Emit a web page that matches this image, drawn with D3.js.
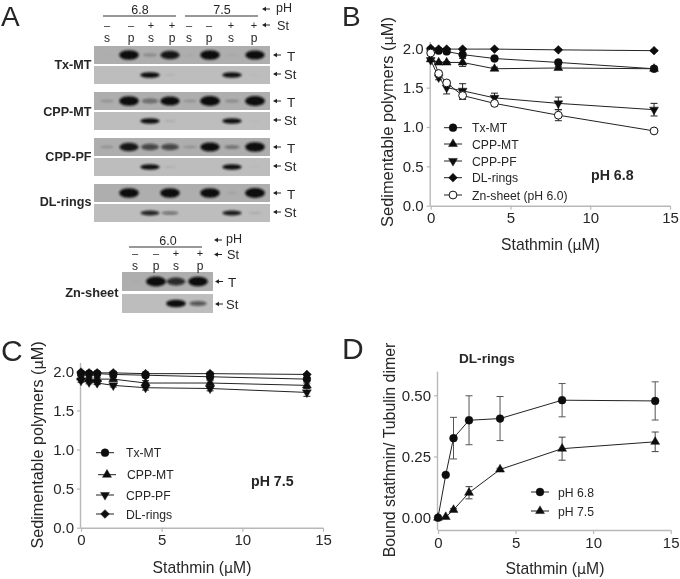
<!DOCTYPE html>
<html><head><meta charset="utf-8">
<script src="https://cdn.jsdelivr.net/npm/d3@7/dist/d3.min.js"></script>
<style>html,body{margin:0;padding:0;background:#fff}svg{display:block}text{font-family:"Liberation Sans",Arial,sans-serif;fill:#262626}</style>
</head><body><svg id="c" width="680" height="579"></svg>
<script>
const stathmin=[0,0.5,1,2,4,8,14];
const txB=[1.98,1.97,1.96,1.92,1.87,1.82,1.74], txBe=[0.01,0.01,0.02,0.02,0.02,0.02,0.02];
const cppmtB=[1.86,1.82,1.82,1.82,1.74,1.75,1.74], cppmtBe=[0.01,0.01,0.01,0.05,0.02,0.02,0.02];
const cpppfB=[1.85,1.63,1.50,1.46,1.37,1.30,1.22], cpppfBe=[0.01,0.03,0.08,0.09,0.06,0.08,0.08];
const dlB=[2.0,1.99,1.99,1.99,1.99,1.98,1.97], dlBe=[0.01,0.01,0.01,0.01,0.01,0.01,0.01];
const znB=[1.94,1.68,1.56,1.40,1.30,1.15,0.95], znBe=[0.02,0.02,0.03,0.05,0.03,0.07,0.01];
const txC=[1.97,1.97,1.97,1.96,1.95,1.93,1.90], txCe=[0.02,0.02,0.02,0.03,0.03,0.03,0.02];
const cppmtC=[1.92,1.90,1.90,1.90,1.85,1.85,1.82], cppmtCe=[0.02,0.02,0.02,0.02,0.03,0.03,0.03];
const cpppfC=[1.88,1.86,1.85,1.82,1.79,1.78,1.73], cpppfCe=[0.02,0.02,0.02,0.02,0.03,0.03,0.05];
const dlC=[1.99,1.98,1.98,1.98,1.97,1.97,1.96], dlCe=[0.01,0.01,0.01,0.02,0.02,0.02,0.01];
const d68=[0,0.175,0.325,0.398,0.405,0.48,0.477], d68e=[0,0,0.085,0.1,0.09,0.068,0.078];
const d75=[0,0.003,0.032,0.102,0.197,0.282,0.31], d75e=[0,0,0.005,0.025,0.005,0.047,0.04];
const xTicks=[0,5,10,15], yTicksBC=[0,0.5,1,1.5,2], yTicksD=[0,0.25,0.5];
const laneLabels=["s","p","s","p"], signLabels=["\u2013","\u2013","+","+"];
const gelRows=[
 {name:"Tx-MT",T:[0.02,0.95,0.2,0.85,0.04,0.95,0.05,0.9],St:[0,0,0.95,0.08,0,0,0.9,0.05]},
 {name:"CPP-MT",T:[0.15,0.95,0.4,0.9,0.15,1,0.2,1],St:[0,0,0.9,0.12,0,0,0.9,0.05]},
 {name:"CPP-PF",T:[0.15,0.85,0.6,0.6,0.15,0.9,0.3,0.95],St:[0,0,0.9,0.1,0,0,0.9,0.05]},
 {name:"DL-rings",T:[0,0.95,0,0.95,0,0.95,0.08,1],St:[0,0,0.8,0.45,0,0,0.85,0.15]}];
const znT=[0.03,1,0.75,0.95], znSt=[0,0,0.95,0.55];

const svg=d3.select("#c");
const defs=svg.append("defs");
defs.append("filter").attr("id","soft").attr("x","-5%").attr("y","-5%").attr("width","110%").attr("height","110%")
 .append("feGaussianBlur").attr("stdDeviation",0.35);
defs.append("filter").attr("id","band").attr("x","-30%").attr("y","-60%").attr("width","160%").attr("height","220%")
 .append("feGaussianBlur").attr("stdDeviation",0.9);
const root=svg.append("g").attr("filter","url(#soft)");
function T(x,y,s,size,opt={}){const t=root.append("text").attr("x",x).attr("y",y).attr("font-size",size)
 .attr("text-anchor",opt.anchor||"start").attr("font-weight",opt.bold?"bold":"normal").text(s);
 if(opt.rot!==undefined)t.attr("transform",`rotate(${opt.rot} ${x} ${y})`);return t;}
function arrow(x,y){root.append("path").attr("d",d3.line()([[x,y],[x+4,y-2.2],[x+4,y-0.5],[x+8,y-0.5],[x+8,y+0.5],[x+4,y+0.5],[x+4,y+2.2]])+"Z").attr("fill","#222");}

// Panel letters
T(1,25.5,"A",28);T(342,25.5,"B",28);T(1,361,"C",30);T(342,359,"D",30);

// Panel A gels
const lane8=d3.scaleOrdinal().domain(d3.range(8)).range([107,129,150,170,190,210,232,255]);
const lane8txt=d3.scaleOrdinal().domain(d3.range(8)).range([107,131,151,172,189,209,231,254]);
const lane4=d3.scaleOrdinal().domain(d3.range(4)).range([135,156,176,198]);
const lane4txt=d3.scaleOrdinal().domain(d3.range(4)).range([135,156,176,200]);
function gel(x0,x1,y,h,vals,lane,hb,c){
 root.append("rect").attr("x",x0).attr("y",y).attr("width",x1-x0).attr("height",h).attr("fill",c);
 root.append("g").attr("filter","url(#band)").selectAll("ellipse").data(vals).join("ellipse")
  .attr("cx",(d,i)=>lane(i)).attr("cy",y+h/2).attr("rx",d=>5+5*Math.sqrt(d)).attr("ry",d=>hb*(0.15+0.85*d))
  .attr("fill","#101010").attr("opacity",d=>Math.min(1,d*1.1));
}
const rowY=[46,92,138,184], rowLab=[23,24,23,22];
gelRows.forEach((r,i)=>{
 const y=rowY[i];
 gel(94,270,y,18,r.T,lane8,5,"#aeaeae");
 gel(94,270,y+20,18,r.St,lane8,3,"#bdbdbd");
 T(91.5,y+rowLab[i],r.name,12.6,{anchor:"end",bold:true});
 arrow(273,y+9);T(287,y+14.5,"T",13.5);
 arrow(273,y+28);T(284,y+32.5,"St",13);
});
// Header for pH 6.8 and 7.5
[[103,176,"6.8",140],[185,258,"7.5",222]].forEach(h=>{
 root.append("line").attr("x1",h[0]).attr("x2",h[1]).attr("y1",16).attr("y2",16).attr("stroke","#333");
 T(h[3],14,h[2],12.5,{anchor:"middle"});
});
arrow(262,9);T(276,12,"pH",12.5);arrow(262,25);T(277,30,"St",12.7);
d3.range(8).forEach(i=>{
 T(lane8txt(i),42,laneLabels[i%4],12,{anchor:"middle"});
 T(lane8txt(i),28.5,signLabels[i%4],11,{anchor:"middle"});
});
// Zn-sheet
gel(122,213,272,19,znT,lane4,5,"#aeaeae");gel(122,213,294,19,znSt,lane4,4,"#bdbdbd");
root.append("line").attr("x1",129).attr("x2",202).attr("y1",247).attr("y2",247).attr("stroke","#333");
T(168,245,"6.0",12.5,{anchor:"middle"});
arrow(214,240);T(226,243,"pH",12.5);arrow(214,254.5);T(227,259,"St",12.7);
d3.range(4).forEach(i=>{T(lane4txt(i),270,laneLabels[i],12,{anchor:"middle"});T(lane4txt(i),256.5,signLabels[i],11,{anchor:"middle"});});
T(118.5,296.5,"Zn-sheet",12.8,{anchor:"end",bold:true});
arrow(215,281.5);T(228,287,"T",13.5);arrow(215,304);T(226,309,"St",13);

// Charts
const sym={c:d3.symbolCircle,u:d3.symbolTriangle,d:d3.symbolTriangle,r:d3.symbolSquare};
const rot={c:0,u:0,d:180,r:45};
function marker(g,x,y,k,open){
 g.append("path").attr("d",d3.symbol().type(sym[k]).size(k=="c"?48:k=="r"?38:34)())
  .attr("transform",`translate(${x},${y}) rotate(${rot[k]})`)
  .attr("fill",open?"#fff":"#111").attr("stroke","#111").attr("stroke-width",open?1:0.5);
}
function chart(cfg){
 const x=d3.scaleLinear().domain([0,15]).range(cfg.xr), y=d3.scaleLinear().domain([0,cfg.ymax]).range(cfg.yr);
 const g=root.append("g");
 const ax=g.append("g").attr("transform",`translate(0,${cfg.axisY})`).call(d3.axisBottom(x).tickValues(xTicks).tickSize(4));
 const ay=g.append("g").attr("transform",`translate(${cfg.axisX},0)`).call(d3.axisLeft(y).tickValues(cfg.yt).tickFormat(cfg.fmt).tickSize(4));
 ay.select(".domain").attr("d",`M-0.5,${cfg.axisY}V${cfg.top}`);
 ax.select(".domain").attr("d",`M${cfg.xr[0]},0.5H${cfg.xr[1]}`);
 [ax,ay].forEach(a=>{a.selectAll(".domain").attr("stroke","#b8b8b8").attr("stroke-width",1.4).attr("fill","none");
  a.selectAll(".tick line").attr("stroke","#b8b8b8").attr("stroke-width",1.2);
  a.selectAll("text").attr("font-size",15).attr("fill","#262626").attr("font-family","Liberation Sans");});
 cfg.series.forEach(s=>{
  const se=g.append("g");
  se.append("path").attr("d",d3.line().x((d,i)=>x(stathmin[i])).y(d=>y(d))(s.v)).attr("fill","none").attr("stroke","#222").attr("stroke-width",1);
  s.v.forEach((v,i)=>{const e=s.e[i];if(!e)return;const px=x(stathmin[i]);
   se.append("path").attr("d",`M${px},${y(v-e)}V${y(v+e)}M${px-3.5},${y(v-e)}h7M${px-3.5},${y(v+e)}h7`).attr("stroke",s.ec||"#222").attr("fill","none").attr("stroke-width",1);});
  s.v.forEach((v,i)=>marker(se,x(stathmin[i]),y(v),s.k,s.open));
 });
 cfg.series.forEach((s,i)=>{const l=cfg.leg[i];if(!l)return;
  g.append("line").attr("x1",l[0]).attr("x2",l[0]+18).attr("y1",l[1]).attr("y2",l[1]).attr("stroke","#222");
  marker(g,l[0]+9,l[1],s.k,s.open);
  T(l[0]+l[2],l[1]+4.5,s.n,12.2);
 });
}
const muTitle=(x,y,pre,size,rotA)=>{const t=T(x,y,"",size,{anchor:"middle",rot:rotA});
 t.append("tspan").text(pre+" (");t.append("tspan").text("\u00b5").attr("font-family","DejaVu Sans").attr("font-size",size*0.9);t.append("tspan").text("M)");};

chart({xr:[430.7,670],yr:[205.7,48.3],ymax:2,axisY:205.7,axisX:430.7,top:42,yt:yTicksBC,fmt:d3.format(".1f"),
 series:[{n:"Tx-MT",k:"c",v:txB,e:txBe},{n:"CPP-MT",k:"u",v:cppmtB,e:cppmtBe},{n:"CPP-PF",k:"d",v:cpppfB,e:cpppfBe},{n:"DL-rings",k:"r",v:dlB,e:dlBe},{n:"Zn-sheet (pH 6.0)",k:"c",v:znB,e:znBe,open:true}],
 leg:[[444,127.7,28],[444,144,28],[444,161,28],[444,177.7,28],[444,195,28]]});
T(591,180,"pH 6.8",14.2,{bold:true});
muTitle(393,122,"Sedimentable polymers",16.4,-90);
muTitle(550.5,250,"Stathmin",15.7);

chart({xr:[81,323],yr:[527.7,371.3],ymax:2,axisY:527.7,axisX:81,top:363,yt:yTicksBC,fmt:d3.format(".1f"),
 series:[{n:"Tx-MT",k:"c",v:txC,e:txCe},{n:"CPP-MT",k:"u",v:cppmtC,e:cppmtCe},{n:"CPP-PF",k:"d",v:cpppfC,e:cpppfCe},{n:"DL-rings",k:"r",v:dlC,e:dlCe}],
 leg:[[96,452.7,30],[98,474.7,29],[96,495,30],[96,514,30]]});
T(251,486,"pH 7.5",14.2,{bold:true});
muTitle(43,445,"Sedimentable polymers",16.2,-90);
muTitle(202,572.5,"Stathmin",15.7);

chart({xr:[438,670.7],yr:[517.7,395.3],ymax:0.5,axisY:530,axisX:438,top:371.7,yt:yTicksD,fmt:d3.format(".2f"),
 series:[{n:"pH 6.8",k:"c",v:d68,e:d68e,ec:"#555"},{n:"pH 7.5",k:"u",v:d75,e:d75e,ec:"#444"}],
 leg:[[531,492,27],[531,511,27]]});
T(459,362.7,"DL-rings",13.6,{bold:true});
T(395,450,"Bound stathmin/ Tubulin dimer",15.9,{anchor:"middle",rot:-90});
muTitle(555,574,"Stathmin",15.7);
</script></body></html>
